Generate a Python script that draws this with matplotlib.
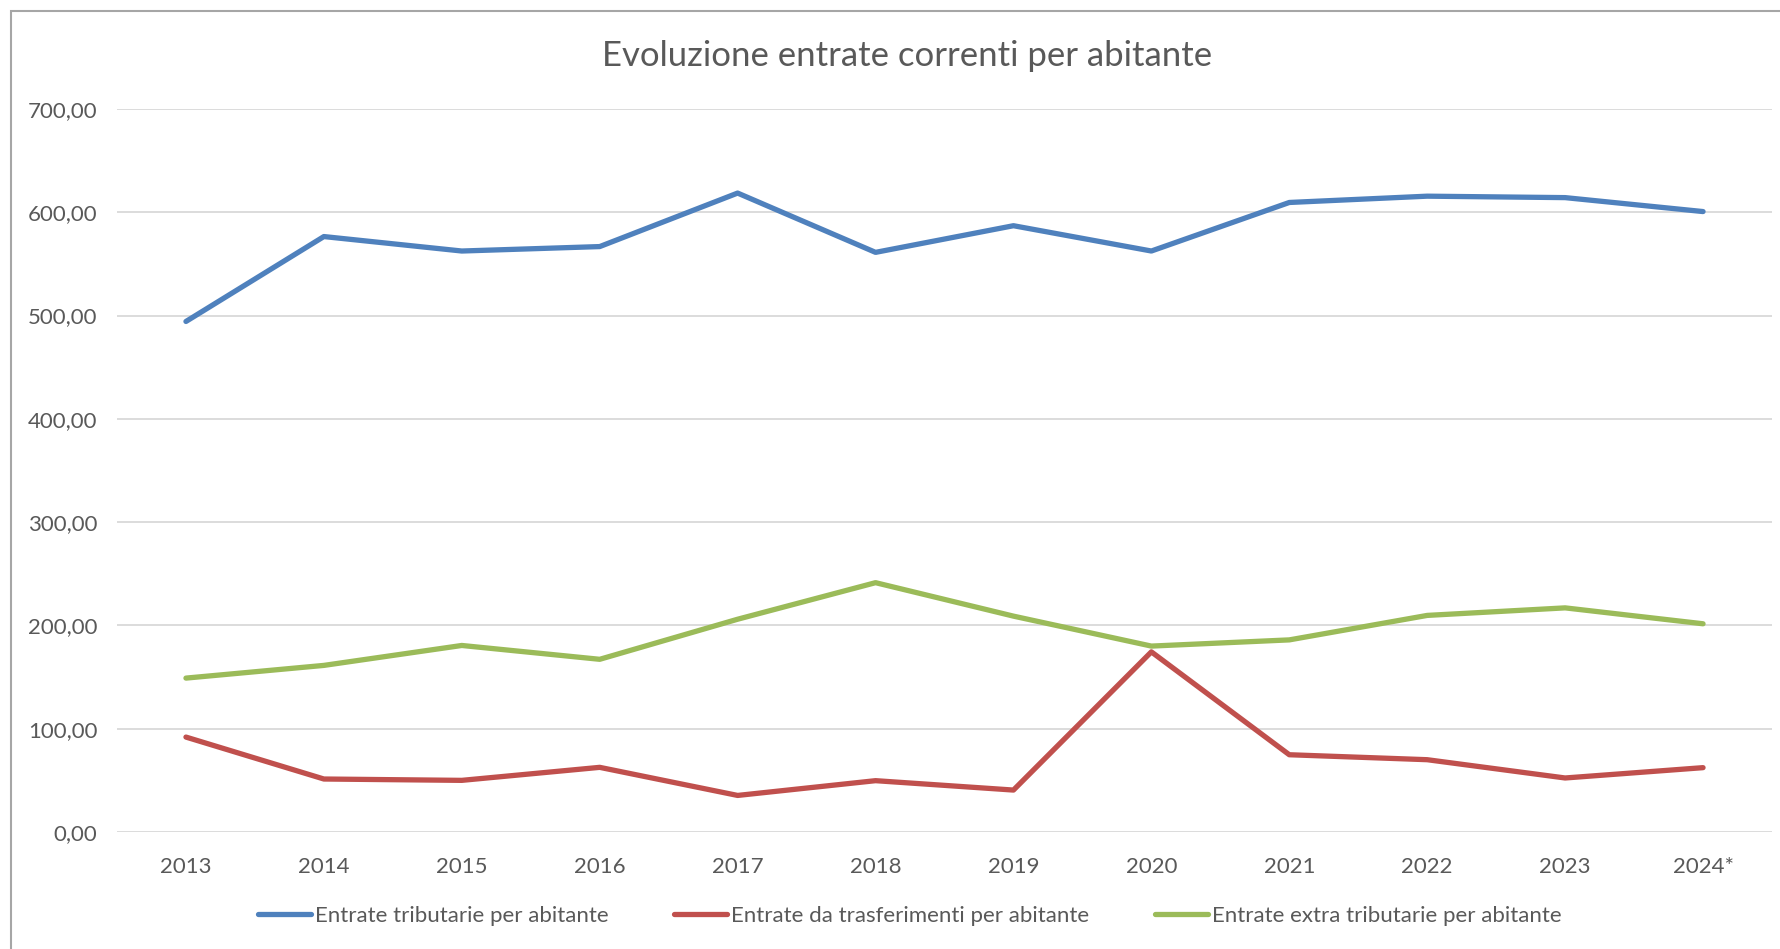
import matplotlib
matplotlib.use("Agg")
import matplotlib.pyplot as plt
from matplotlib.patches import Rectangle

years = ["2013", "2014", "2015", "2016", "2017", "2018", "2019", "2020", "2021", "2022", "2023", "2024*"]
tributarie = [494.3, 576.5, 562.5, 566.8, 618.6, 561.2, 587.0, 562.5, 609.5, 615.6, 614.2, 600.7]
trasferimenti = [91.9, 51.3, 50.0, 62.6, 35.4, 49.7, 40.6, 174.4, 74.8, 70.0, 52.3, 62.3]
extra = [149.0, 161.3, 180.6, 167.2, 206.0, 241.4, 209.0, 180.0, 186.0, 209.7, 217.0, 201.6]
series_names = ["Entrate tributarie per abitante",
                "Entrate da trasferimenti per abitante",
                "Entrate extra tributarie per abitante"]
title = "Evoluzione entrate correnti per abitante"
yticks = [0, 100, 200, 300, 400, 500, 600, 700]

colors = ["#4F81BD", "#C0504D", "#9BBB59"]
FONT = ["Lato", "DejaVu Sans"]
plt.rcParams["font.family"] = FONT
TXT = "#595959"

W, H = 1780, 949
fig = plt.figure(figsize=(W / 100, H / 100), dpi=100)
ax = fig.add_axes([117 / W, 1 - 832 / H, (1772 - 117) / W, (832 - 109) / H])

x = list(range(len(years)))
for vals, c, name in zip([tributarie, trasferimenti, extra], colors, series_names):
    ax.plot(x, vals, color=c, lw=3.8, solid_capstyle="round", solid_joinstyle="round", label=name, zorder=3)

ax.set_xlim(-0.5, len(years) - 0.5)
ax.set_ylim(0, 700)
ax.set_yticks(yticks)
ax.set_yticklabels([f"{v:.2f}".replace(".", ",") for v in yticks])
ax.set_xticks(x)
ax.set_xticklabels(years)
ax.tick_params(axis="both", length=0, labelsize=16, labelcolor=TXT)
ax.tick_params(axis="y", pad=14)
ax.tick_params(axis="x", pad=18)
for s in ax.spines.values():
    s.set_visible(False)
ax.grid(axis="y", color="#D9D9D9", lw=1.3, zorder=0)
ax.set_axisbelow(True)

fig.text(907 / W, 1 - 56 / H, title, ha="center", va="center", fontsize=25, color=TXT)

leg = fig.legend(loc="center", bbox_to_anchor=(910 / W, 1 - 916 / H), ncol=3, frameon=False,
                 fontsize=16, handlelength=2.36, handletextpad=0.2, columnspacing=2.96, labelcolor=TXT)

fig.patches.append(Rectangle((11 / W, -0.1), 1.2, 1.1 - 11 / H, transform=fig.transFigure,
                             fill=False, edgecolor="#A6A6A6", lw=1.5))

fig.savefig("out.png", dpi=100, facecolor="white")
